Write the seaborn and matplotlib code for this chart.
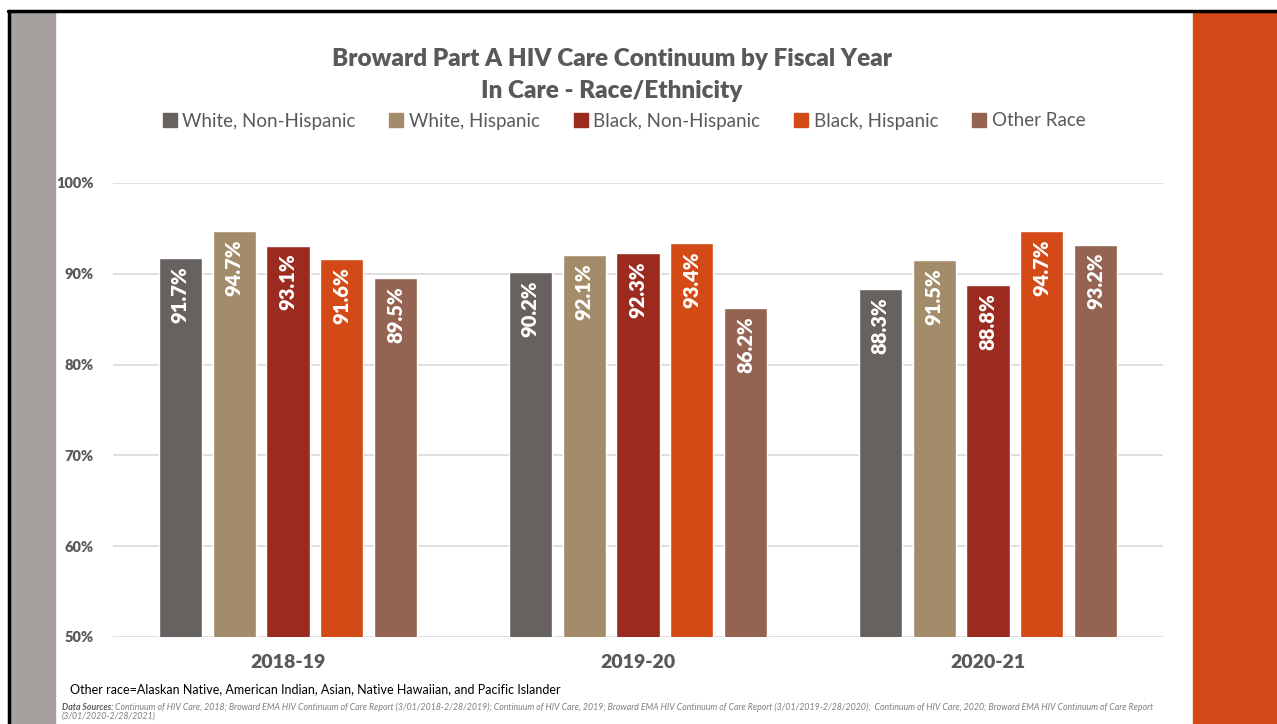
import numpy as np
import pandas as pd
import seaborn as sns
import matplotlib.pyplot as plt
from matplotlib.patches import Rectangle
from matplotlib.lines import Line2D
from matplotlib.ticker import FuncFormatter

years = ["2018-19", "2019-20", "2020-21"]
groups = ["White, Non-Hispanic", "White, Hispanic", "Black, Non-Hispanic",
          "Black, Hispanic", "Other Race"]
white_nh = [91.7, 90.2, 88.3]
white_h = [94.7, 92.1, 91.5]
black_nh = [93.1, 92.3, 88.8]
black_h = [91.6, 93.4, 94.7]
other = [89.5, 86.2, 93.2]
yticks = [50, 60, 70, 80, 90, 100]

palette = ['#676260', '#A38C6A', '#9C2B1F', '#D44A17', '#946352']

series = [white_nh, white_h, black_nh, black_h, other]
rows = []
for g, vals in zip(groups, series):
    for y, v in zip(years, vals):
        rows.append({"year": y, "group": g, "value": v})
df = pd.DataFrame(rows)

sns.set_style("white")
plt.rcParams['font.family'] = ['Lato', 'DejaVu Sans']

fig = plt.figure(figsize=(12.77, 7.24), dpi=100)

# slide decoration
fig.patches.append(Rectangle((10 / 1277, 0), 45 / 1277, 1 - 12 / 724,
                             transform=fig.transFigure, color='#A6A09E', zorder=0))
fig.patches.append(Rectangle((1193 / 1277, 0), 84 / 1277, 1 - 12 / 724,
                             transform=fig.transFigure, color='#D24817', zorder=0))
fig.lines.append(Line2D([8 / 1277, 1], [1 - 11 / 724, 1 - 11 / 724],
                        transform=fig.transFigure, color='black', lw=2.5))
fig.lines.append(Line2D([9 / 1277, 9 / 1277], [0, 1 - 11 / 724],
                        transform=fig.transFigure, color='black', lw=2.5))

ax = fig.add_axes([113 / 1277, 87 / 724, 1050 / 1277, 454 / 724])
ax.patch.set_alpha(0)
sns.barplot(data=df, x="year", y="value", hue="group", hue_order=groups,
            palette=palette, width=0.77, gap=0.2, saturation=1, ax=ax,
            legend=False, zorder=3)

ax.set_ylim(50, 100)
ax.set_xlim(-0.5, 2.5)
ax.set_yticks(yticks)
ax.yaxis.set_major_formatter(FuncFormatter(lambda v, p: f"{v:.0f}%"))
for y in yticks:
    ax.axhline(y, color='#D9D9D9', lw=1.2, zorder=1)
for s in ax.spines.values():
    s.set_visible(False)
ax.tick_params(axis='both', length=0)
ax.tick_params(axis='y', pad=14)
ax.tick_params(axis='x', pad=12)
ax.set_xlabel('')
ax.set_ylabel('')
for lab in ax.get_yticklabels():
    lab.set_fontsize(10.5)
    lab.set_fontweight('heavy')
    lab.set_color('#595959')
for lab in ax.get_xticklabels():
    lab.set_fontsize(14)
    lab.set_fontweight('heavy')
    lab.set_color('#595959')

for cont in ax.containers:
    for rect in cont:
        h = rect.get_height()
        ax.text(rect.get_x() + rect.get_width() / 2, h - 0.9, f"{h:.1f}%",
                rotation=90, ha='center', va='top', color='white',
                fontsize=14.5, fontweight='heavy', zorder=4)

fig.text(612 / 1277, 1 - 59 / 724, "Broward Part A HIV Care Continuum by Fiscal Year",
         ha='center', va='center', fontsize=17.5, fontweight='heavy', color='#595959')
fig.text(612 / 1277, 1 - 91 / 724, "In Care - Race/Ethnicity",
         ha='center', va='center', fontsize=17.5, fontweight='heavy', color='#595959')

handles = [Rectangle((0, 0), 1, 1, color=c) for c in palette]
fig.legend(handles, groups, loc='center', bbox_to_anchor=(624 / 1277, 1 - 121 / 724),
           ncol=5, frameon=False, fontsize=13.5, handlelength=0.75, handleheight=0.75,
           handletextpad=0.3, columnspacing=1.8, labelcolor='#595959')

fig.text(70 / 1277, 1 - 689 / 724,
         "Other race=Alaskan Native, American Indian, Asian, Native Hawaiian, and Pacific Islander",
         ha='left', va='center', fontsize=9, color='black')
src = ("Continuum of HIV Care, 2018; Broward EMA HIV Continuum of Care Report (3/01/2018-2/28/2019); "
       "Continuum of HIV Care, 2019; Broward EMA HIV Continuum of Care Report (3/01/2019-2/28/2020);  "
       "Continuum of HIV Care, 2020; Broward EMA HIV Continuum of Care Report")
t = fig.text(62 / 1277, 1 - 707 / 724, "Data Sources: ", ha='left', va='center',
             fontsize=6.3, color='#595959', fontstyle='italic', fontweight='bold')
fig.canvas.draw()
bb = t.get_window_extent()
fig.text(bb.x1 / 1277, 1 - 707 / 724, src, ha='left', va='center',
         fontsize=6.3, color='#7F7F7F', fontstyle='italic')
fig.text(62 / 1277, 1 - 716 / 724, "(3/01/2020-2/28/2021)", ha='left', va='center',
         fontsize=6.3, color='#7F7F7F', fontstyle='italic')

fig.savefig("out.png", dpi=100)
